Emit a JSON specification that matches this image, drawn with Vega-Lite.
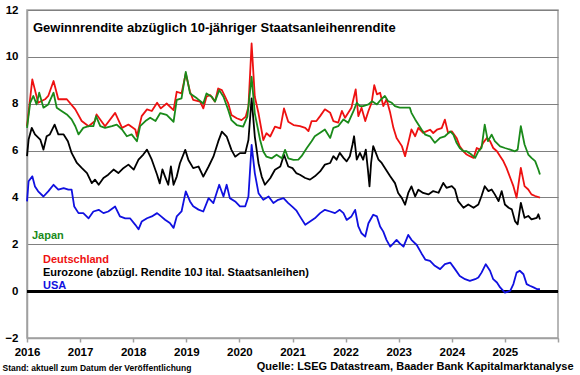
{
  "$schema": "https://vega.github.io/schema/vega-lite/v6.json",
  "width": 531,
  "height": 328,
  "autosize": {"type": "none"},
  "padding": {"left": 27, "top": 10, "right": 22, "bottom": 37},
  "background": "white",
  "config": {
    "view": {"stroke": "#A0A0A0", "strokeWidth": 1.5},
    "font": "Liberation Sans"
  },
  "title": {
    "text": "Gewinnrendite abzüglich 10-jähriger Staatsanleihenrendite",
    "anchor": "start",
    "frame": "group",
    "orient": "top",
    "offset": -41,
    "dx": 6,
    "font": "Liberation Sans",
    "fontSize": 13,
    "fontWeight": "bold",
    "color": "#000000",
    "baseline": "alphabetic"
  },
  "data": {
    "values": [
      {"s":"US","t":2016.0,"v":3.83},{"s":"US","t":2016.03,"v":4.69},{"s":"US","t":2016.1,"v":4.9},{"s":"US","t":2016.15,"v":4.47},{"s":"US","t":2016.21,"v":4.26},{"s":"US","t":2016.31,"v":4.04},{"s":"US","t":2016.4,"v":4.26},{"s":"US","t":2016.5,"v":4.54},{"s":"US","t":2016.59,"v":4.33},{"s":"US","t":2016.69,"v":4.4},{"s":"US","t":2016.78,"v":4.33},{"s":"US","t":2016.84,"v":4.33},{"s":"US","t":2016.89,"v":3.61},{"s":"US","t":2016.97,"v":3.33},{"s":"US","t":2017.06,"v":3.33},{"s":"US","t":2017.16,"v":3.11},{"s":"US","t":2017.25,"v":3.4},{"s":"US","t":2017.35,"v":3.47},{"s":"US","t":2017.44,"v":3.33},{"s":"US","t":2017.53,"v":3.4},{"s":"US","t":2017.66,"v":3.61},{"s":"US","t":2017.75,"v":3.19},{"s":"US","t":2017.85,"v":3.11},{"s":"US","t":2017.94,"v":3.11},{"s":"US","t":2018.04,"v":2.83},{"s":"US","t":2018.1,"v":2.64},{"s":"US","t":2018.16,"v":2.97},{"s":"US","t":2018.26,"v":3.11},{"s":"US","t":2018.35,"v":3.19},{"s":"US","t":2018.45,"v":3.33},{"s":"US","t":2018.52,"v":3.2},{"s":"US","t":2018.6,"v":3.05},{"s":"US","t":2018.69,"v":2.91},{"s":"US","t":2018.76,"v":2.7},{"s":"US","t":2018.82,"v":3.19},{"s":"US","t":2018.91,"v":3.4},{"s":"US","t":2018.99,"v":4.26},{"s":"US","t":2019.07,"v":3.83},{"s":"US","t":2019.13,"v":3.62},{"s":"US","t":2019.23,"v":3.48},{"s":"US","t":2019.32,"v":3.4},{"s":"US","t":2019.42,"v":3.97},{"s":"US","t":2019.51,"v":3.76},{"s":"US","t":2019.62,"v":4.54},{"s":"US","t":2019.7,"v":4.04},{"s":"US","t":2019.76,"v":4.54},{"s":"US","t":2019.82,"v":3.97},{"s":"US","t":2019.92,"v":3.83},{"s":"US","t":2020.01,"v":3.62},{"s":"US","t":2020.11,"v":3.62},{"s":"US","t":2020.17,"v":4.04},{"s":"US","t":2020.23,"v":6.24},{"s":"US","t":2020.29,"v":5.04},{"s":"US","t":2020.36,"v":4.18},{"s":"US","t":2020.45,"v":3.9},{"s":"US","t":2020.55,"v":4.04},{"s":"US","t":2020.64,"v":3.76},{"s":"US","t":2020.73,"v":3.9},{"s":"US","t":2020.83,"v":3.97},{"s":"US","t":2020.92,"v":3.76},{"s":"US","t":2021.0,"v":3.6},{"s":"US","t":2021.07,"v":3.45},{"s":"US","t":2021.14,"v":3.19},{"s":"US","t":2021.24,"v":2.83},{"s":"US","t":2021.33,"v":2.97},{"s":"US","t":2021.42,"v":3.11},{"s":"US","t":2021.52,"v":3.33},{"s":"US","t":2021.61,"v":3.47},{"s":"US","t":2021.71,"v":3.4},{"s":"US","t":2021.8,"v":3.33},{"s":"US","t":2021.89,"v":3.47},{"s":"US","t":2021.96,"v":3.33},{"s":"US","t":2022.02,"v":3.04},{"s":"US","t":2022.11,"v":3.19},{"s":"US","t":2022.18,"v":3.47},{"s":"US","t":2022.24,"v":2.76},{"s":"US","t":2022.3,"v":2.47},{"s":"US","t":2022.37,"v":2.33},{"s":"US","t":2022.43,"v":2.9},{"s":"US","t":2022.52,"v":3.26},{"s":"US","t":2022.59,"v":3.19},{"s":"US","t":2022.65,"v":2.76},{"s":"US","t":2022.71,"v":2.54},{"s":"US","t":2022.77,"v":2.19},{"s":"US","t":2022.84,"v":1.9},{"s":"US","t":2022.9,"v":2.04},{"s":"US","t":2022.96,"v":2.19},{"s":"US","t":2023.02,"v":2.04},{"s":"US","t":2023.09,"v":1.9},{"s":"US","t":2023.18,"v":2.4},{"s":"US","t":2023.24,"v":2.19},{"s":"US","t":2023.34,"v":1.97},{"s":"US","t":2023.43,"v":1.61},{"s":"US","t":2023.5,"v":1.35},{"s":"US","t":2023.59,"v":1.29},{"s":"US","t":2023.68,"v":1.08},{"s":"US","t":2023.78,"v":0.94},{"s":"US","t":2023.87,"v":1.15},{"s":"US","t":2023.97,"v":1.22},{"s":"US","t":2024.06,"v":0.94},{"s":"US","t":2024.15,"v":0.65},{"s":"US","t":2024.25,"v":0.51},{"s":"US","t":2024.34,"v":0.44},{"s":"US","t":2024.44,"v":0.51},{"s":"US","t":2024.5,"v":0.58},{"s":"US","t":2024.56,"v":0.79},{"s":"US","t":2024.64,"v":1.15},{"s":"US","t":2024.72,"v":0.87},{"s":"US","t":2024.78,"v":0.51},{"s":"US","t":2024.85,"v":0.37},{"s":"US","t":2024.91,"v":0.16},{"s":"US","t":2025.0,"v":-0.06},{"s":"US","t":2025.1,"v":0.01},{"s":"US","t":2025.16,"v":0.3},{"s":"US","t":2025.22,"v":0.79},{"s":"US","t":2025.28,"v":0.87},{"s":"US","t":2025.35,"v":0.72},{"s":"US","t":2025.41,"v":0.3},{"s":"US","t":2025.47,"v":0.23},{"s":"US","t":2025.54,"v":0.16},{"s":"US","t":2025.6,"v":0.09},{"s":"US","t":2025.66,"v":0.09},

      {"s":"EZ","t":2016.0,"v":5.76},{"s":"EZ","t":2016.03,"v":6.47},{"s":"EZ","t":2016.09,"v":6.97},{"s":"EZ","t":2016.15,"v":6.69},{"s":"EZ","t":2016.25,"v":6.47},{"s":"EZ","t":2016.31,"v":6.04},{"s":"EZ","t":2016.37,"v":6.61},{"s":"EZ","t":2016.43,"v":6.69},{"s":"EZ","t":2016.52,"v":7.11},{"s":"EZ","t":2016.59,"v":6.69},{"s":"EZ","t":2016.69,"v":6.69},{"s":"EZ","t":2016.77,"v":6.4},{"s":"EZ","t":2016.84,"v":5.9},{"s":"EZ","t":2016.94,"v":5.47},{"s":"EZ","t":2017.03,"v":5.26},{"s":"EZ","t":2017.13,"v":5.04},{"s":"EZ","t":2017.22,"v":4.61},{"s":"EZ","t":2017.28,"v":4.76},{"s":"EZ","t":2017.35,"v":4.54},{"s":"EZ","t":2017.44,"v":4.83},{"s":"EZ","t":2017.53,"v":4.97},{"s":"EZ","t":2017.63,"v":5.19},{"s":"EZ","t":2017.72,"v":5.04},{"s":"EZ","t":2017.82,"v":5.26},{"s":"EZ","t":2017.91,"v":5.4},{"s":"EZ","t":2018.01,"v":5.19},{"s":"EZ","t":2018.1,"v":5.61},{"s":"EZ","t":2018.19,"v":5.83},{"s":"EZ","t":2018.26,"v":6.04},{"s":"EZ","t":2018.35,"v":5.61},{"s":"EZ","t":2018.45,"v":4.97},{"s":"EZ","t":2018.5,"v":4.6},{"s":"EZ","t":2018.55,"v":5.2},{"s":"EZ","t":2018.6,"v":4.89},{"s":"EZ","t":2018.66,"v":4.54},{"s":"EZ","t":2018.71,"v":5.32},{"s":"EZ","t":2018.76,"v":4.54},{"s":"EZ","t":2018.82,"v":4.89},{"s":"EZ","t":2018.88,"v":5.46},{"s":"EZ","t":2018.98,"v":6.03},{"s":"EZ","t":2019.04,"v":5.6},{"s":"EZ","t":2019.13,"v":5.25},{"s":"EZ","t":2019.23,"v":5.32},{"s":"EZ","t":2019.32,"v":4.89},{"s":"EZ","t":2019.42,"v":5.32},{"s":"EZ","t":2019.51,"v":5.74},{"s":"EZ","t":2019.6,"v":6.38},{"s":"EZ","t":2019.67,"v":6.81},{"s":"EZ","t":2019.76,"v":6.6},{"s":"EZ","t":2019.85,"v":6.03},{"s":"EZ","t":2019.92,"v":5.74},{"s":"EZ","t":2020.01,"v":5.89},{"s":"EZ","t":2020.11,"v":5.89},{"s":"EZ","t":2020.17,"v":6.45},{"s":"EZ","t":2020.23,"v":8.23},{"s":"EZ","t":2020.29,"v":6.6},{"s":"EZ","t":2020.36,"v":5.46},{"s":"EZ","t":2020.42,"v":4.89},{"s":"EZ","t":2020.48,"v":4.54},{"s":"EZ","t":2020.58,"v":4.82},{"s":"EZ","t":2020.67,"v":5.18},{"s":"EZ","t":2020.77,"v":5.32},{"s":"EZ","t":2020.84,"v":5.82},{"s":"EZ","t":2020.92,"v":5.32},{"s":"EZ","t":2021.0,"v":5.25},{"s":"EZ","t":2021.07,"v":5.04},{"s":"EZ","t":2021.14,"v":4.97},{"s":"EZ","t":2021.24,"v":4.83},{"s":"EZ","t":2021.33,"v":4.76},{"s":"EZ","t":2021.42,"v":4.9},{"s":"EZ","t":2021.52,"v":5.11},{"s":"EZ","t":2021.61,"v":5.4},{"s":"EZ","t":2021.71,"v":5.47},{"s":"EZ","t":2021.77,"v":5.76},{"s":"EZ","t":2021.83,"v":5.61},{"s":"EZ","t":2021.89,"v":5.9},{"s":"EZ","t":2021.96,"v":5.69},{"s":"EZ","t":2022.02,"v":5.54},{"s":"EZ","t":2022.08,"v":5.76},{"s":"EZ","t":2022.13,"v":6.26},{"s":"EZ","t":2022.16,"v":6.61},{"s":"EZ","t":2022.21,"v":5.61},{"s":"EZ","t":2022.27,"v":5.9},{"s":"EZ","t":2022.33,"v":5.61},{"s":"EZ","t":2022.38,"v":6.04},{"s":"EZ","t":2022.42,"v":5.19},{"s":"EZ","t":2022.45,"v":4.47},{"s":"EZ","t":2022.48,"v":5.47},{"s":"EZ","t":2022.52,"v":6.19},{"s":"EZ","t":2022.57,"v":5.9},{"s":"EZ","t":2022.62,"v":5.61},{"s":"EZ","t":2022.68,"v":5.47},{"s":"EZ","t":2022.74,"v":5.26},{"s":"EZ","t":2022.84,"v":4.9},{"s":"EZ","t":2022.93,"v":4.61},{"s":"EZ","t":2022.99,"v":4.19},{"s":"EZ","t":2023.06,"v":3.97},{"s":"EZ","t":2023.12,"v":3.69},{"s":"EZ","t":2023.18,"v":4.19},{"s":"EZ","t":2023.24,"v":4.47},{"s":"EZ","t":2023.31,"v":4.04},{"s":"EZ","t":2023.37,"v":4.33},{"s":"EZ","t":2023.46,"v":4.19},{"s":"EZ","t":2023.56,"v":4.13},{"s":"EZ","t":2023.65,"v":4.27},{"s":"EZ","t":2023.75,"v":4.2},{"s":"EZ","t":2023.84,"v":4.62},{"s":"EZ","t":2023.9,"v":4.41},{"s":"EZ","t":2024.0,"v":4.48},{"s":"EZ","t":2024.06,"v":4.34},{"s":"EZ","t":2024.12,"v":3.84},{"s":"EZ","t":2024.22,"v":3.56},{"s":"EZ","t":2024.31,"v":3.7},{"s":"EZ","t":2024.41,"v":3.56},{"s":"EZ","t":2024.5,"v":3.7},{"s":"EZ","t":2024.56,"v":4.06},{"s":"EZ","t":2024.62,"v":4.48},{"s":"EZ","t":2024.69,"v":4.27},{"s":"EZ","t":2024.75,"v":4.34},{"s":"EZ","t":2024.81,"v":4.13},{"s":"EZ","t":2024.88,"v":3.84},{"s":"EZ","t":2024.94,"v":4.27},{"s":"EZ","t":2025.0,"v":3.7},{"s":"EZ","t":2025.07,"v":3.56},{"s":"EZ","t":2025.13,"v":3.49},{"s":"EZ","t":2025.19,"v":2.99},{"s":"EZ","t":2025.24,"v":2.85},{"s":"EZ","t":2025.3,"v":3.77},{"s":"EZ","t":2025.37,"v":3.13},{"s":"EZ","t":2025.44,"v":3.21},{"s":"EZ","t":2025.5,"v":3.06},{"s":"EZ","t":2025.6,"v":3.13},{"s":"EZ","t":2025.63,"v":3.28},{"s":"EZ","t":2025.66,"v":3.06},

      {"s":"DE","t":2016.0,"v":7.04},{"s":"DE","t":2016.1,"v":9.04},{"s":"DE","t":2016.21,"v":8.04},{"s":"DE","t":2016.34,"v":8.19},{"s":"DE","t":2016.4,"v":8.33},{"s":"DE","t":2016.5,"v":8.97},{"s":"DE","t":2016.59,"v":8.19},{"s":"DE","t":2016.75,"v":8.19},{"s":"DE","t":2016.91,"v":7.76},{"s":"DE","t":2017.03,"v":7.26},{"s":"DE","t":2017.16,"v":7.04},{"s":"DE","t":2017.28,"v":7.26},{"s":"DE","t":2017.31,"v":7.54},{"s":"DE","t":2017.47,"v":7.04},{"s":"DE","t":2017.66,"v":7.61},{"s":"DE","t":2017.79,"v":6.97},{"s":"DE","t":2017.91,"v":7.11},{"s":"DE","t":2018.04,"v":6.9},{"s":"DE","t":2018.07,"v":6.61},{"s":"DE","t":2018.16,"v":7.47},{"s":"DE","t":2018.26,"v":7.76},{"s":"DE","t":2018.35,"v":7.69},{"s":"DE","t":2018.45,"v":8.04},{"s":"DE","t":2018.52,"v":7.8},{"s":"DE","t":2018.63,"v":8.01},{"s":"DE","t":2018.76,"v":7.73},{"s":"DE","t":2018.82,"v":8.51},{"s":"DE","t":2018.91,"v":8.44},{"s":"DE","t":2018.99,"v":9.29},{"s":"DE","t":2019.07,"v":8.51},{"s":"DE","t":2019.13,"v":8.16},{"s":"DE","t":2019.26,"v":8.09},{"s":"DE","t":2019.32,"v":7.8},{"s":"DE","t":2019.38,"v":8.3},{"s":"DE","t":2019.45,"v":8.37},{"s":"DE","t":2019.54,"v":8.09},{"s":"DE","t":2019.6,"v":8.65},{"s":"DE","t":2019.67,"v":8.58},{"s":"DE","t":2019.73,"v":8.3},{"s":"DE","t":2019.79,"v":8.01},{"s":"DE","t":2019.85,"v":7.52},{"s":"DE","t":2019.95,"v":7.38},{"s":"DE","t":2020.04,"v":7.3},{"s":"DE","t":2020.12,"v":7.45},{"s":"DE","t":2020.17,"v":7.87},{"s":"DE","t":2020.23,"v":10.57},{"s":"DE","t":2020.29,"v":8.3},{"s":"DE","t":2020.36,"v":7.59},{"s":"DE","t":2020.45,"v":6.45},{"s":"DE","t":2020.51,"v":6.74},{"s":"DE","t":2020.58,"v":6.6},{"s":"DE","t":2020.67,"v":7.02},{"s":"DE","t":2020.77,"v":6.95},{"s":"DE","t":2020.84,"v":7.8},{"s":"DE","t":2020.92,"v":7.23},{"s":"DE","t":2021.02,"v":7.09},{"s":"DE","t":2021.14,"v":7.04},{"s":"DE","t":2021.24,"v":6.97},{"s":"DE","t":2021.3,"v":6.83},{"s":"DE","t":2021.36,"v":7.26},{"s":"DE","t":2021.45,"v":7.26},{"s":"DE","t":2021.52,"v":7.47},{"s":"DE","t":2021.61,"v":7.76},{"s":"DE","t":2021.71,"v":7.61},{"s":"DE","t":2021.77,"v":7.26},{"s":"DE","t":2021.86,"v":7.19},{"s":"DE","t":2021.93,"v":7.69},{"s":"DE","t":2021.99,"v":7.4},{"s":"DE","t":2022.05,"v":7.61},{"s":"DE","t":2022.11,"v":7.83},{"s":"DE","t":2022.19,"v":8.61},{"s":"DE","t":2022.24,"v":7.47},{"s":"DE","t":2022.3,"v":7.83},{"s":"DE","t":2022.37,"v":7.26},{"s":"DE","t":2022.43,"v":7.69},{"s":"DE","t":2022.49,"v":8.04},{"s":"DE","t":2022.54,"v":8.79},{"s":"DE","t":2022.59,"v":8.4},{"s":"DE","t":2022.65,"v":8.47},{"s":"DE","t":2022.71,"v":7.9},{"s":"DE","t":2022.77,"v":8.19},{"s":"DE","t":2022.84,"v":7.61},{"s":"DE","t":2022.9,"v":6.97},{"s":"DE","t":2022.96,"v":6.54},{"s":"DE","t":2023.06,"v":6.19},{"s":"DE","t":2023.12,"v":5.76},{"s":"DE","t":2023.18,"v":6.33},{"s":"DE","t":2023.24,"v":6.9},{"s":"DE","t":2023.31,"v":6.61},{"s":"DE","t":2023.37,"v":6.97},{"s":"DE","t":2023.46,"v":6.76},{"s":"DE","t":2023.52,"v":6.82},{"s":"DE","t":2023.59,"v":6.89},{"s":"DE","t":2023.65,"v":6.75},{"s":"DE","t":2023.72,"v":6.89},{"s":"DE","t":2023.81,"v":6.96},{"s":"DE","t":2023.87,"v":7.32},{"s":"DE","t":2023.93,"v":6.75},{"s":"DE","t":2024.0,"v":6.82},{"s":"DE","t":2024.09,"v":6.54},{"s":"DE","t":2024.15,"v":6.18},{"s":"DE","t":2024.22,"v":5.97},{"s":"DE","t":2024.28,"v":5.83},{"s":"DE","t":2024.34,"v":5.76},{"s":"DE","t":2024.41,"v":5.69},{"s":"DE","t":2024.47,"v":6.11},{"s":"DE","t":2024.53,"v":6.04},{"s":"DE","t":2024.59,"v":6.33},{"s":"DE","t":2024.66,"v":6.54},{"s":"DE","t":2024.72,"v":6.4},{"s":"DE","t":2024.78,"v":6.11},{"s":"DE","t":2024.85,"v":5.97},{"s":"DE","t":2024.91,"v":5.76},{"s":"DE","t":2024.97,"v":5.55},{"s":"DE","t":2025.03,"v":5.26},{"s":"DE","t":2025.1,"v":4.84},{"s":"DE","t":2025.16,"v":4.48},{"s":"DE","t":2025.22,"v":3.99},{"s":"DE","t":2025.3,"v":5.26},{"s":"DE","t":2025.37,"v":4.48},{"s":"DE","t":2025.44,"v":4.34},{"s":"DE","t":2025.5,"v":4.13},{"s":"DE","t":2025.57,"v":4.06},{"s":"DE","t":2025.66,"v":3.99},

      {"s":"JP","t":2016.0,"v":6.97},{"s":"JP","t":2016.06,"v":8.04},{"s":"JP","t":2016.12,"v":8.33},{"s":"JP","t":2016.18,"v":7.97},{"s":"JP","t":2016.23,"v":8.47},{"s":"JP","t":2016.31,"v":7.83},{"s":"JP","t":2016.4,"v":7.97},{"s":"JP","t":2016.5,"v":8.47},{"s":"JP","t":2016.56,"v":7.83},{"s":"JP","t":2016.65,"v":7.69},{"s":"JP","t":2016.75,"v":7.54},{"s":"JP","t":2016.84,"v":7.33},{"s":"JP","t":2016.91,"v":7.04},{"s":"JP","t":2016.97,"v":6.69},{"s":"JP","t":2017.06,"v":6.97},{"s":"JP","t":2017.16,"v":7.04},{"s":"JP","t":2017.25,"v":7.04},{"s":"JP","t":2017.3,"v":7.47},{"s":"JP","t":2017.38,"v":7.04},{"s":"JP","t":2017.47,"v":6.97},{"s":"JP","t":2017.6,"v":7.04},{"s":"JP","t":2017.69,"v":7.11},{"s":"JP","t":2017.79,"v":6.9},{"s":"JP","t":2017.88,"v":6.61},{"s":"JP","t":2017.97,"v":6.69},{"s":"JP","t":2018.07,"v":6.4},{"s":"JP","t":2018.13,"v":7.04},{"s":"JP","t":2018.23,"v":7.26},{"s":"JP","t":2018.32,"v":7.4},{"s":"JP","t":2018.42,"v":7.26},{"s":"JP","t":2018.51,"v":7.6},{"s":"JP","t":2018.63,"v":7.52},{"s":"JP","t":2018.76,"v":7.23},{"s":"JP","t":2018.82,"v":8.16},{"s":"JP","t":2018.91,"v":8.23},{"s":"JP","t":2018.99,"v":9.36},{"s":"JP","t":2019.07,"v":8.44},{"s":"JP","t":2019.2,"v":8.23},{"s":"JP","t":2019.32,"v":8.01},{"s":"JP","t":2019.38,"v":8.44},{"s":"JP","t":2019.48,"v":8.3},{"s":"JP","t":2019.54,"v":8.09},{"s":"JP","t":2019.62,"v":8.58},{"s":"JP","t":2019.7,"v":8.3},{"s":"JP","t":2019.79,"v":7.73},{"s":"JP","t":2019.85,"v":7.3},{"s":"JP","t":2019.95,"v":7.09},{"s":"JP","t":2020.07,"v":7.02},{"s":"JP","t":2020.15,"v":7.45},{"s":"JP","t":2020.23,"v":9.15},{"s":"JP","t":2020.29,"v":7.59},{"s":"JP","t":2020.39,"v":6.45},{"s":"JP","t":2020.45,"v":5.96},{"s":"JP","t":2020.51,"v":5.74},{"s":"JP","t":2020.61,"v":5.67},{"s":"JP","t":2020.7,"v":5.82},{"s":"JP","t":2020.8,"v":5.67},{"s":"JP","t":2020.86,"v":6.03},{"s":"JP","t":2020.92,"v":5.67},{"s":"JP","t":2021.02,"v":5.6},{"s":"JP","t":2021.11,"v":5.61},{"s":"JP","t":2021.17,"v":5.76},{"s":"JP","t":2021.27,"v":6.11},{"s":"JP","t":2021.36,"v":6.4},{"s":"JP","t":2021.42,"v":6.61},{"s":"JP","t":2021.52,"v":6.76},{"s":"JP","t":2021.61,"v":6.9},{"s":"JP","t":2021.71,"v":6.54},{"s":"JP","t":2021.77,"v":6.97},{"s":"JP","t":2021.86,"v":7.04},{"s":"JP","t":2021.96,"v":7.33},{"s":"JP","t":2022.05,"v":7.19},{"s":"JP","t":2022.15,"v":7.69},{"s":"JP","t":2022.21,"v":8.04},{"s":"JP","t":2022.27,"v":7.9},{"s":"JP","t":2022.33,"v":7.9},{"s":"JP","t":2022.43,"v":7.97},{"s":"JP","t":2022.5,"v":8.11},{"s":"JP","t":2022.59,"v":7.97},{"s":"JP","t":2022.67,"v":8.19},{"s":"JP","t":2022.74,"v":8.33},{"s":"JP","t":2022.8,"v":8.11},{"s":"JP","t":2022.87,"v":8.04},{"s":"JP","t":2022.93,"v":7.9},{"s":"JP","t":2023.02,"v":7.83},{"s":"JP","t":2023.12,"v":7.83},{"s":"JP","t":2023.21,"v":7.83},{"s":"JP","t":2023.24,"v":7.61},{"s":"JP","t":2023.31,"v":7.33},{"s":"JP","t":2023.37,"v":7.11},{"s":"JP","t":2023.43,"v":6.9},{"s":"JP","t":2023.5,"v":6.68},{"s":"JP","t":2023.59,"v":6.61},{"s":"JP","t":2023.68,"v":6.33},{"s":"JP","t":2023.78,"v":6.54},{"s":"JP","t":2023.87,"v":6.61},{"s":"JP","t":2023.97,"v":6.82},{"s":"JP","t":2024.03,"v":6.68},{"s":"JP","t":2024.09,"v":6.33},{"s":"JP","t":2024.15,"v":6.11},{"s":"JP","t":2024.22,"v":5.97},{"s":"JP","t":2024.28,"v":5.97},{"s":"JP","t":2024.37,"v":5.83},{"s":"JP","t":2024.44,"v":5.69},{"s":"JP","t":2024.5,"v":5.97},{"s":"JP","t":2024.56,"v":6.11},{"s":"JP","t":2024.62,"v":7.11},{"s":"JP","t":2024.68,"v":6.4},{"s":"JP","t":2024.75,"v":6.68},{"s":"JP","t":2024.81,"v":6.4},{"s":"JP","t":2024.91,"v":6.18},{"s":"JP","t":2025.0,"v":6.11},{"s":"JP","t":2025.1,"v":6.04},{"s":"JP","t":2025.19,"v":5.97},{"s":"JP","t":2025.24,"v":6.04},{"s":"JP","t":2025.3,"v":7.04},{"s":"JP","t":2025.37,"v":6.26},{"s":"JP","t":2025.44,"v":5.83},{"s":"JP","t":2025.5,"v":5.69},{"s":"JP","t":2025.57,"v":5.55},{"s":"JP","t":2025.63,"v":5.19},{"s":"JP","t":2025.66,"v":4.98}
    ]
  },
  "layer": [
    {
      "mark": {"type": "rule", "color": "#000000", "strokeWidth": 2},
      "encoding": {"y": {"datum": 0, "type": "quantitative"}}
    },
    {
      "mark": {"type": "line", "strokeWidth": 1.8, "strokeJoin": "round"},
      "encoding": {
        "x": {
          "field": "t", "type": "quantitative",
          "scale": {"domain": [2016, 2026], "nice": false, "zero": false},
          "axis": {
            "values": [2016, 2017, 2018, 2019, 2020, 2021, 2022, 2023, 2024, 2025, 2026],
            "labelExpr": "datum.value == 2026 ? '' : format(datum.value, 'd')",
            "grid": false,
            "domainColor": "#A0A0A0", "domainWidth": 1.5,
            "tickColor": "#A0A0A0", "tickSize": 4, "tickWidth": 1.5,
            "labelFont": "Liberation Sans", "labelFontSize": 11.5, "labelFontWeight": "bold", "labelColor": "#000000",
            "labelPadding": 4, "labelFlush": false, "labelOverlap": false,
            "title": "Quelle: LSEG Datastream, Baader Bank Kapitalmarktanalyse",
            "titleFont": "Liberation Sans", "titleFontSize": 11, "titleFontWeight": "bold", "titleColor": "#000000",
            "titleAnchor": "end", "titleAlign": "right", "titleBaseline": "alphabetic",
            "titleX": 546, "titleY": 31
          }
        },
        "y": {
          "field": "v", "type": "quantitative",
          "scale": {"domain": [-2, 12], "nice": false, "zero": false},
          "axis": {
            "values": [-2, 0, 2, 4, 6, 8, 10, 12],
            "grid": true, "gridColor": "#808080", "gridWidth": 1,
            "ticks": false,
            "domainColor": "#A0A0A0", "domainWidth": 1.5,
            "labelFont": "Liberation Sans", "labelFontSize": 11.5, "labelFontWeight": "bold", "labelColor": "#000000",
            "labelPadding": 9,
            "title": "Stand: aktuell zum Datum der Veröffentlichung",
            "titleFont": "Liberation Sans", "titleFontSize": 8.5, "titleFontWeight": "bold", "titleColor": "#000000",
            "titleAngle": 0, "titleAlign": "left", "titleBaseline": "alphabetic",
            "titleX": -25, "titleY": 360
          }
        },
        "color": {
          "field": "s", "type": "nominal",
          "scale": {"domain": ["US", "EZ", "DE", "JP"], "range": ["#1010E0", "#000000", "#EE1111", "#1A8A1A"]},
          "legend": {
            "orient": "none",
            "legendX": 5,
            "legendY": 220,
            "values": ["DE", "EZ", "US"],
            "direction": "vertical",
            "title": "Japan",
            "titleColor": "#1A8A1A",
            "titleFont": "Liberation Sans", "titleFontSize": 11, "titleFontWeight": "bold",
            "titlePadding": 13,
            "symbolSize": 0, "symbolOpacity": 0, "symbolStrokeWidth": 0,
            "labelOffset": 0,
            "rowPadding": 1,
            "padding": 0,
            "labelFont": "Liberation Sans", "labelFontSize": 11, "labelFontWeight": "bold",
            "labelLimit": 400,
            "labelExpr": "datum.value == 'DE' ? 'Deutschland' : datum.value == 'EZ' ? 'Eurozone (abzügl. Rendite 10J ital. Staatsanleihen)' : 'USA'",
            "labelColor": {"expr": "datum.value == 'DE' ? '#EE1111' : datum.value == 'US' ? '#1010E0' : '#000000'"}
          }
        }
      }
    }
  ]
}
